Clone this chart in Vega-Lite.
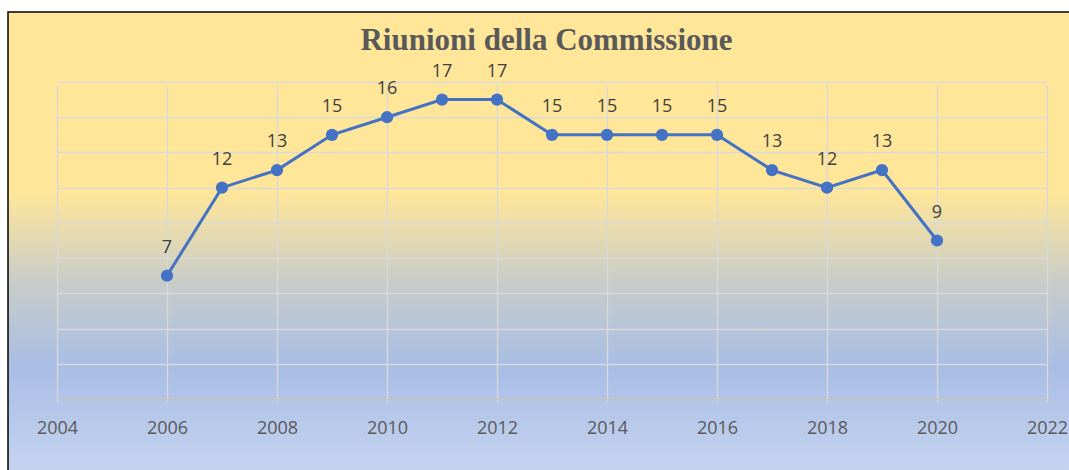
{
  "$schema": "https://vega.github.io/schema/vega-lite/v6.json",
  "autosize": {"type": "none"},
  "width": 1063,
  "height": 460,
  "padding": {"left": 8, "top": 12, "right": 0, "bottom": 0},
  "background": "white",
  "view": {
    "stroke": "#000000",
    "strokeWidth": 1.5,
    "fill": {
      "gradient": "linear",
      "x1": 0, "y1": 0, "x2": 0, "y2": 1,
      "stops": [
        {"offset": 0, "color": "#FFE699"},
        {"offset": 0.39, "color": "#FFE699"},
        {"offset": 0.59, "color": "#C8CCC9"},
        {"offset": 0.77, "color": "#A9BDE5"},
        {"offset": 1, "color": "#C4D3EF"}
      ]
    }
  },
  "title": {
    "text": "Riunioni della Commissione",
    "font": "Liberation Serif",
    "fontSize": 31,
    "fontWeight": "bold",
    "color": "#595959",
    "anchor": "middle",
    "baseline": "alphabetic",
    "offset": -69,
    "dx": 7
  },
  "data": {
    "values": [
      {"anno": 2006, "riunioni": 7},
      {"anno": 2007, "riunioni": 12},
      {"anno": 2008, "riunioni": 13},
      {"anno": 2009, "riunioni": 15},
      {"anno": 2010, "riunioni": 16},
      {"anno": 2011, "riunioni": 17},
      {"anno": 2012, "riunioni": 17},
      {"anno": 2013, "riunioni": 15},
      {"anno": 2014, "riunioni": 15},
      {"anno": 2015, "riunioni": 15},
      {"anno": 2016, "riunioni": 15},
      {"anno": 2017, "riunioni": 13},
      {"anno": 2018, "riunioni": 12},
      {"anno": 2019, "riunioni": 13},
      {"anno": 2020, "riunioni": 9}
    ]
  },
  "encoding": {
    "x": {
      "field": "anno",
      "type": "quantitative",
      "scale": {"domain": [2004, 2022], "nice": false, "zero": false, "range": [49, 1039]},
      "axis": {
        "title": null,
        "values": [2004, 2006, 2008, 2010, 2012, 2014, 2016, 2018, 2020, 2022],
        "format": "d",
        "ticks": false,
        "offset": -73,
        "domainColor": "#BFBFBF",
        "domainWidth": 1.5,
        "gridColor": "#D9D9D9",
        "gridWidth": 1.3,
        "labelFont": "Open Sans",
        "labelFontSize": 18,
        "labelColor": "#595959",
        "labelPadding": 20,
        "labelFlush": false
      }
    },
    "y": {
      "field": "riunioni",
      "type": "quantitative",
      "scale": {"domain": [0, 18], "nice": false, "range": [387, 70]},
      "axis": {
        "title": null,
        "values": [0, 2, 4, 6, 8, 10, 12, 14, 16, 18],
        "labels": false,
        "ticks": false,
        "domain": false,
        "gridColor": "#D9D9D9",
        "gridWidth": 1.3
      }
    }
  },
  "layer": [
    {"mark": {"type": "line", "color": "#4472C4", "strokeWidth": 3}},
    {"mark": {"type": "point", "filled": true, "opacity": 1, "color": "#4472C4", "size": 150}},
    {
      "mark": {
        "type": "text",
        "dy": -28,
        "font": "Open Sans",
        "fontSize": 18,
        "color": "#404040"
      },
      "encoding": {"text": {"field": "riunioni", "type": "quantitative"}}
    }
  ]
}
